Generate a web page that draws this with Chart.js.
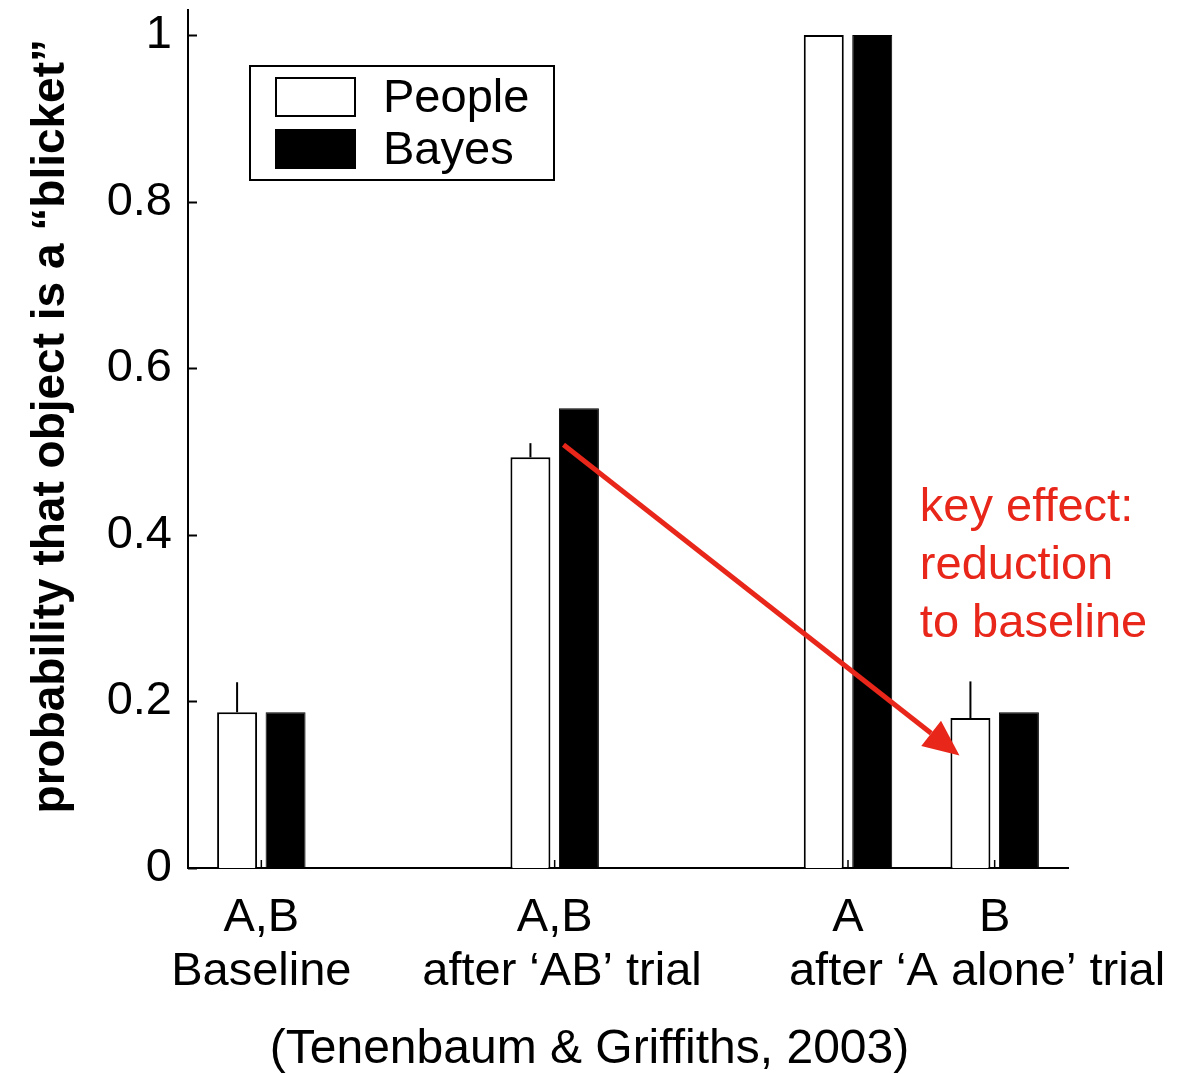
<!DOCTYPE html>
<html><head><meta charset="utf-8">
<script src="https://cdn.jsdelivr.net/npm/chart.js@4.4.1/dist/chart.umd.min.js"></script>
<style>html,body{margin:0;padding:0;background:#fff}#wrap{width:1195px;height:1074px;position:relative}</style>
</head><body><div id="wrap"><canvas id="c" width="1195" height="1074"></canvas></div>
<script>
// Judged probability that an object is a "blicket", people vs. Bayesian model
const categories = ['A,B', '', 'A,B', '', 'A', 'B'];
const peopleValues = [0.187, null, 0.493, null, 1.0, 0.180];
const peopleErrors = [0.036, null, 0.017, null, 0, 0.044];
const bayesValues = [0.187, null, 0.552, null, 1.0, 0.187];
const seriesNames = ['People', 'Bayes'];
const yTickValues = [0, 0.2, 0.4, 0.6, 0.8, 1];
const groupNames = ['Baseline', 'after ‘AB’ trial', 'after ‘A alone’ trial'];
const groupAnchors = [0, 2.05, 4.88];
const noteLines = ['key effect:', 'reduction', 'to baseline'];
const noteAnchor = { x: 4.49, y: 0.432 };
const arrowFrom = { x: 2.06, y: 0.508 };
const arrowTo = { x: 4.76, y: 0.135 };
const captionText = '(Tenenbaum & Griffiths, 2003)';
const yTitle = '  probability that object is a “blicket”';

const FONT = '"Liberation Sans", Arial, Helvetica, sans-serif';
const RED = '#e8261a';
const FS = 47;

const overlay = {
  id: 'overlay',
  afterDatasetsDraw(chart) {
    const ctx = chart.ctx;
    const x = chart.scales.x, y = chart.scales.y;
    const area = chart.chartArea;
    ctx.save();
    ctx.strokeStyle = '#000';
    ctx.lineWidth = 2;
    // inward tick marks on the value axis
    yTickValues.forEach(v => {
      const py = Math.round(y.getPixelForValue(v)) + 0.5;
      ctx.beginPath(); ctx.moveTo(area.left, py); ctx.lineTo(area.left + 9, py); ctx.stroke();
    });
    // small upward tick marks at occupied categories
    ctx.lineWidth = 1.5;
    categories.forEach((c, i) => {
      if (peopleValues[i] === null) return;
      const px = x.getPixelForValue(i);
      ctx.beginPath(); ctx.moveTo(px, area.bottom); ctx.lineTo(px, area.bottom - 8); ctx.stroke();
    });
    // error bars on People bars (upper half only)
    const meta = chart.getDatasetMeta(0);
    ctx.lineWidth = 2;
    peopleErrors.forEach((e, i) => {
      if (e === null || !e) return;
      const bar = meta.data[i];
      const top = y.getPixelForValue(peopleValues[i] + e);
      ctx.beginPath(); ctx.moveTo(bar.x, bar.y); ctx.lineTo(bar.x, top); ctx.stroke();
    });
    ctx.restore();
  },
  afterDraw(chart) {
    const ctx = chart.ctx;
    const x = chart.scales.x, y = chart.scales.y;
    const area = chart.chartArea;
    ctx.save();
    // legend box
    const lx = area.left + 62, ly = area.top + 56, lw = 304, lh = 114;
    ctx.lineWidth = 2; ctx.strokeStyle = '#000';
    ctx.fillStyle = '#fff';
    ctx.fillRect(lx, ly, lw, lh);
    ctx.strokeRect(lx, ly, lw, lh);
    ctx.font = FS + 'px ' + FONT;
    ctx.textBaseline = 'middle'; ctx.textAlign = 'left';
    chart.data.datasets.forEach((ds, k) => {
      const sy = ly + 12 + k * 52;
      ctx.fillStyle = ds.backgroundColor;
      ctx.fillRect(lx + 26, sy, 79, 38);
      ctx.strokeRect(lx + 26, sy, 79, 38);
      ctx.fillStyle = '#000';
      ctx.fillText(ds.label, lx + 133, sy + 21);
    });
    // group labels under the category ticks
    ctx.textAlign = 'center';
    groupNames.forEach((g, k) => {
      ctx.fillText(g, x.getPixelForValue(groupAnchors[k]), area.bottom + 104);
    });
    // caption
    ctx.font = '48px ' + FONT;
    ctx.fillText(captionText, chart.width / 2 - 8, area.bottom + 182);
    // red arrow
    const x0 = x.getPixelForValue(arrowFrom.x), y0 = y.getPixelForValue(arrowFrom.y);
    const x1 = x.getPixelForValue(arrowTo.x), y1 = y.getPixelForValue(arrowTo.y);
    const ang = Math.atan2(y1 - y0, x1 - x0);
    const headLen = 36, headHalf = 16;
    const bx = x1 - headLen * Math.cos(ang), by = y1 - headLen * Math.sin(ang);
    ctx.strokeStyle = RED; ctx.fillStyle = RED; ctx.lineWidth = 5;
    ctx.beginPath(); ctx.moveTo(x0, y0); ctx.lineTo(bx, by); ctx.stroke();
    ctx.beginPath();
    ctx.moveTo(x1, y1);
    ctx.lineTo(bx + headHalf * Math.sin(ang), by - headHalf * Math.cos(ang));
    ctx.lineTo(bx - headHalf * Math.sin(ang), by + headHalf * Math.cos(ang));
    ctx.closePath(); ctx.fill();
    // note text
    ctx.font = FS + 'px ' + FONT;
    ctx.textAlign = 'left';
    const nx = x.getPixelForValue(noteAnchor.x), ny = y.getPixelForValue(noteAnchor.y);
    noteLines.forEach((t, k) => ctx.fillText(t, nx, ny + k * 58));
    ctx.restore();
  }
};

new Chart(document.getElementById('c'), {
  type: 'bar',
  data: {
    labels: categories,
    datasets: [
      { label: seriesNames[0], data: peopleValues, backgroundColor: '#ffffff', borderColor: '#000', borderWidth: 2 },
      { label: seriesNames[1], data: bayesValues, backgroundColor: '#000000', borderColor: '#000', borderWidth: 1 }
    ]
  },
  options: {
    responsive: false,
    animation: false,
    events: [],
    categoryPercentage: 0.661,
    barPercentage: 0.825,
    layout: { padding: { top: 10, right: 127, left: 0, bottom: 0 } },
    plugins: { legend: { display: false }, tooltip: { enabled: false } },
    scales: {
      x: {
        offset: true,
        grid: { display: false, drawTicks: false },
        border: { display: true, color: '#000', width: 2 },
        ticks: { color: '#000', font: { family: FONT, size: FS }, padding: 22, maxRotation: 0, autoSkip: false },
        afterFit(s) { s.height = 206; s.paddingLeft = 0; s.paddingRight = 0; }
      },
      y: {
        min: 0, max: 1.03,
        grid: { display: false, drawTicks: false },
        border: { display: true, color: '#000', width: 2 },
        afterBuildTicks(s) { s.ticks = yTickValues.map(v => ({ value: v })); },
        ticks: { color: '#000', font: { family: FONT, size: FS }, padding: 16, callback: v => String(v) },
        title: { display: true, text: yTitle, color: '#000', font: { family: FONT, size: 46, weight: 'bold' }, padding: { top: 24, bottom: 0 } },
        afterFit(s) { s.width = 188; s.paddingTop = 0; s.paddingBottom = 0; }
      }
    }
  },
  plugins: [overlay]
});
</script>
</body></html>
